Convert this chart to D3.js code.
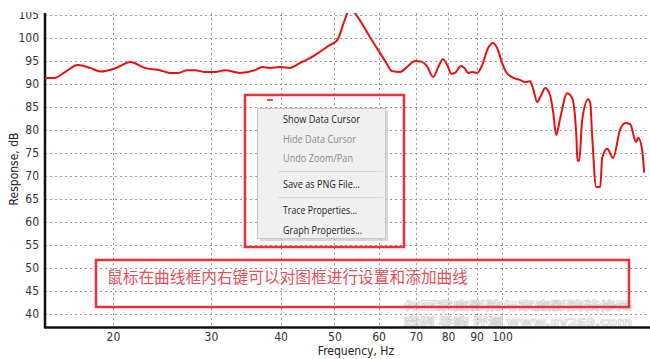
<!DOCTYPE html>
<html>
<head>
<meta charset="utf-8">
<script src="https://cdn.jsdelivr.net/npm/d3@7"></script>
<style>
  body { margin: 0; background: #fff; }
  svg { display: block; }
  .tick text { font-family: "Liberation Sans Narrow", "DejaVu Sans Condensed", "Liberation Sans", sans-serif; font-size: 12px; fill: #333; }
</style>
</head>
<body>
<div id="chart"></div>
<script>
const W = 650
const H = 359

// frequency (Hz) and response (dB)
const freqs = [15.1, 15.7, 16.4, 17.3, 18.2, 19.0, 20.2, 21.5, 22.8, 24.3, 25.3, 26.2, 27.2, 28.1, 29.3, 30.5,
  31.8, 33.8, 36.0, 37.1, 38.3, 39.9, 41.6, 43.4, 45.2, 47.1, 49.1, 50.5, 52.2, 53.3, 54.4, 57.9,
  60.9, 62.0, 63.4, 65.6, 67.5, 69.8, 71.8, 73.3, 75.2, 76.7, 78.3, 80.0, 81.0, 82.3, 84.4, 85.8,
  86.9, 88.3, 90.2, 92.1, 94.4, 96.3, 98.0, 100, 101.7, 104.2, 107.7, 110, 112.3, 113.7, 115.6, 117.5,
  119.5, 122.0, 123.5, 125.1, 127.2, 130.9, 133.6, 136.0, 136.6, 137.6, 139.3, 142.8, 144.0, 145.2, 147.6, 150.1,
  151.3, 154.5, 158.3, 162.9, 166.4, 169.8, 174.1, 175.6, 178.5, 180.0]
const response = [91.3, 91.3, 92.6, 94.1, 93.5, 92.7, 93.4, 94.8, 93.5, 93.0, 92.4, 92.4, 93.0, 93.0, 92.6, 92.6,
  93.0, 92.4, 93.0, 93.7, 93.5, 93.7, 93.5, 94.6, 95.6, 97.0, 98.5, 99.4, 104.0, 106.5, 105.4, 100.2,
  96.0, 94.5, 92.8, 92.6, 93.7, 95.0, 94.8, 93.9, 91.5, 93.5, 95.4, 93.7, 92.2, 92.4, 93.9, 93.3,
  92.4, 92.6, 92.4, 94.1, 97.8, 98.9, 97.8, 94.6, 92.6, 91.5, 90.9, 90.4, 90.6, 89.0, 86.1, 87.5,
  89.1, 87.5, 84.0, 78.9, 82.6, 88.0, 87.0, 78.5, 73.3, 73.3, 82.2, 86.7, 85.9, 78.5, 67.6, 67.6,
  73.9, 75.9, 73.9, 80.0, 81.5, 81.3, 77.4, 78.3, 75.7, 70.7]

const xTicks = [20, 30, 40, 50, 60, 70, 80, 90, 100]
const yTicks = [40, 45, 50, 55, 60, 65, 70, 75, 80, 85, 90, 95, 100, 105]

const menuItems = ["Show Data Cursor", "Hide Data Cursor", "Undo Zoom/Pan", "-", "Save as PNG File...", "-", "Trace Properties...", "Graph Properties..."]
const menuEnabled = [true, false, false, null, true, null, true, true]
const menuWidths = [77, 73, 70, null, 77, null, 74, 79]

const note = "鼠标在曲线框内右键可以对图框进行设置和添加曲线"
const watermark = ["何亚家庭影院与家庭影院装修网", "案例  导购  评测     www.av269.com"]

const pLeft = 45, pRight = 650, pTop = 13, pBottom = 327

const svg = d3.select("#chart").append("svg")
  .attr("width", W)
  .attr("height", H)

const x = d3.scaleLog().domain([15.1, 184.4]).range([pLeft, pRight])
const y = d3.scaleLinear().domain([37.17, 105.43]).range([pBottom, pTop])

// grid
svg.append("g")
  .selectAll("line")
  .data(yTicks)
  .enter().append("line")
  .attr("x1", pLeft).attr("x2", pRight)
  .attr("y1", d => Math.round(y(d)) + 0.5).attr("y2", d => Math.round(y(d)) + 0.5)
  .attr("stroke", "#9a9a9a").attr("stroke-dasharray", "2,3")

svg.append("g")
  .selectAll("line")
  .data(xTicks)
  .enter().append("line")
  .attr("x1", d => Math.round(x(d)) + 0.5).attr("x2", d => Math.round(x(d)) + 0.5)
  .attr("y1", pTop).attr("y2", pBottom)
  .attr("stroke", "#9a9a9a").attr("stroke-dasharray", "2,3")

// watermark (faint, sits under the axis)
watermark.forEach((t, i) => {
  svg.append("text")
    .attr("x", 404).attr("y", 310 + i * 16)
    .attr("font-family", "Noto Sans CJK SC, sans-serif")
    .attr("font-size", 11).attr("font-weight", "bold")
    .attr("fill", "#fff").attr("stroke", "#c4c4c4").attr("stroke-width", 0.7)
    .attr("opacity", 0.75)
    .attr("textLength", 228).attr("lengthAdjust", "spacingAndGlyphs")
    .text(t)
})

// axes
const xAxis = svg.append("g")
  .attr("transform", `translate(0,${pBottom})`)
  .call(d3.axisBottom(x).tickValues(xTicks).tickFormat(d3.format("d")).tickSize(0).tickPadding(5))
xAxis.select(".domain").remove()

const yAxis = svg.append("g")
  .attr("transform", `translate(${pLeft},0)`)
  .call(d3.axisLeft(y).tickValues(yTicks).tickSize(0).tickPadding(6))
yAxis.select(".domain").remove()

svg.append("line")
  .attr("x1", pLeft).attr("x2", pRight).attr("y1", pBottom + 0.5).attr("y2", pBottom + 0.5)
  .attr("stroke", "#111").attr("stroke-width", 2.5)
svg.append("line")
  .attr("x1", pLeft).attr("x2", pLeft).attr("y1", pTop).attr("y2", pBottom + 1.5)
  .attr("stroke", "#111").attr("stroke-width", 2.5)

svg.append("text")
  .attr("x", 356).attr("y", 355)
  .attr("text-anchor", "middle")
  .attr("font-family", "Liberation Sans Narrow, DejaVu Sans Condensed, Liberation Sans, sans-serif")
  .attr("font-size", 12).attr("fill", "#222")
  .text("Frequency, Hz")

svg.append("text")
  .attr("transform", "translate(18,169) rotate(-90)")
  .attr("text-anchor", "middle")
  .attr("font-family", "Liberation Sans Narrow, DejaVu Sans Condensed, Liberation Sans, sans-serif")
  .attr("font-size", 12).attr("fill", "#222")
  .text("Response, dB")

// curve
svg.append("clipPath").attr("id", "plot")
  .append("rect").attr("x", pLeft).attr("y", pTop).attr("width", pRight - pLeft).attr("height", pBottom - pTop)

const pts = freqs.map((f, i) => [f, response[i]])
const line = d3.line()
  .x(d => x(d[0]))
  .y(d => y(d[1]))
  .curve(d3.curveMonotoneX)

svg.append("path")
  .datum(pts)
  .attr("clip-path", "url(#plot)")
  .attr("d", line)
  .attr("fill", "none")
  .attr("stroke", "#e8100f")
  .attr("stroke-width", 2)

// context menu
const mx = 257, my = 108, mw = 128, mh = 130
svg.append("rect").attr("x", mx + 3).attr("y", my + 3).attr("width", mw).attr("height", mh)
  .attr("fill", "#bdbdbd").attr("opacity", 0.6)
svg.append("rect").attr("x", mx + 0.5).attr("y", my + 0.5).attr("width", mw).attr("height", mh)
  .attr("fill", "#f0f0f0").attr("stroke", "#c8c8c8")

let yy = my + 11
menuItems.forEach((t, i) => {
  const next = menuItems[i + 1]
  if (t === "-") {
    svg.append("line")
      .attr("x1", mx + 21).attr("x2", mx + mw - 2)
      .attr("y1", yy + 0.5).attr("y2", yy + 0.5)
      .attr("stroke", "#d7d7d7")
    yy += 13
  } else {
    svg.append("text")
      .attr("x", mx + 26).attr("y", yy + 4)
      .attr("font-family", "Open Sans, Noto Sans, sans-serif")
      .attr("font-size", 11)
      .attr("fill", menuEnabled[i] ? "#1e1e1e" : "#8c8c8c")
      .attr("textLength", menuWidths[i]).attr("lengthAdjust", "spacingAndGlyphs")
      .text(t)
    yy += next === "-" ? 13 : 19.5
  }
})

// annotation boxes
svg.append("line").attr("x1", 267).attr("x2", 273).attr("y1", 100).attr("y2", 100)
  .attr("stroke", "#e8100f").attr("stroke-width", 1.5)
svg.append("rect").attr("x", 245).attr("y", 95).attr("width", 159).attr("height", 152)
  .attr("fill", "none").attr("stroke", "#e8323a").attr("stroke-width", 2.5)
svg.append("rect").attr("x", 96).attr("y", 260).attr("width", 533).attr("height", 47)
  .attr("fill", "none").attr("stroke", "#e8323a").attr("stroke-width", 2.5)
svg.append("text")
  .attr("x", 107).attr("y", 283)
  .attr("font-family", "Noto Sans CJK SC, sans-serif")
  .attr("font-size", 16).attr("fill", "#e5505b")
  .attr("textLength", 361).attr("lengthAdjust", "spacingAndGlyphs")
  .text(note)

// top edge of the screenshot is cut off
svg.append("rect").attr("x", 0).attr("y", 0).attr("width", W).attr("height", 12).attr("fill", "#fff")
</script>
</body>
</html>
